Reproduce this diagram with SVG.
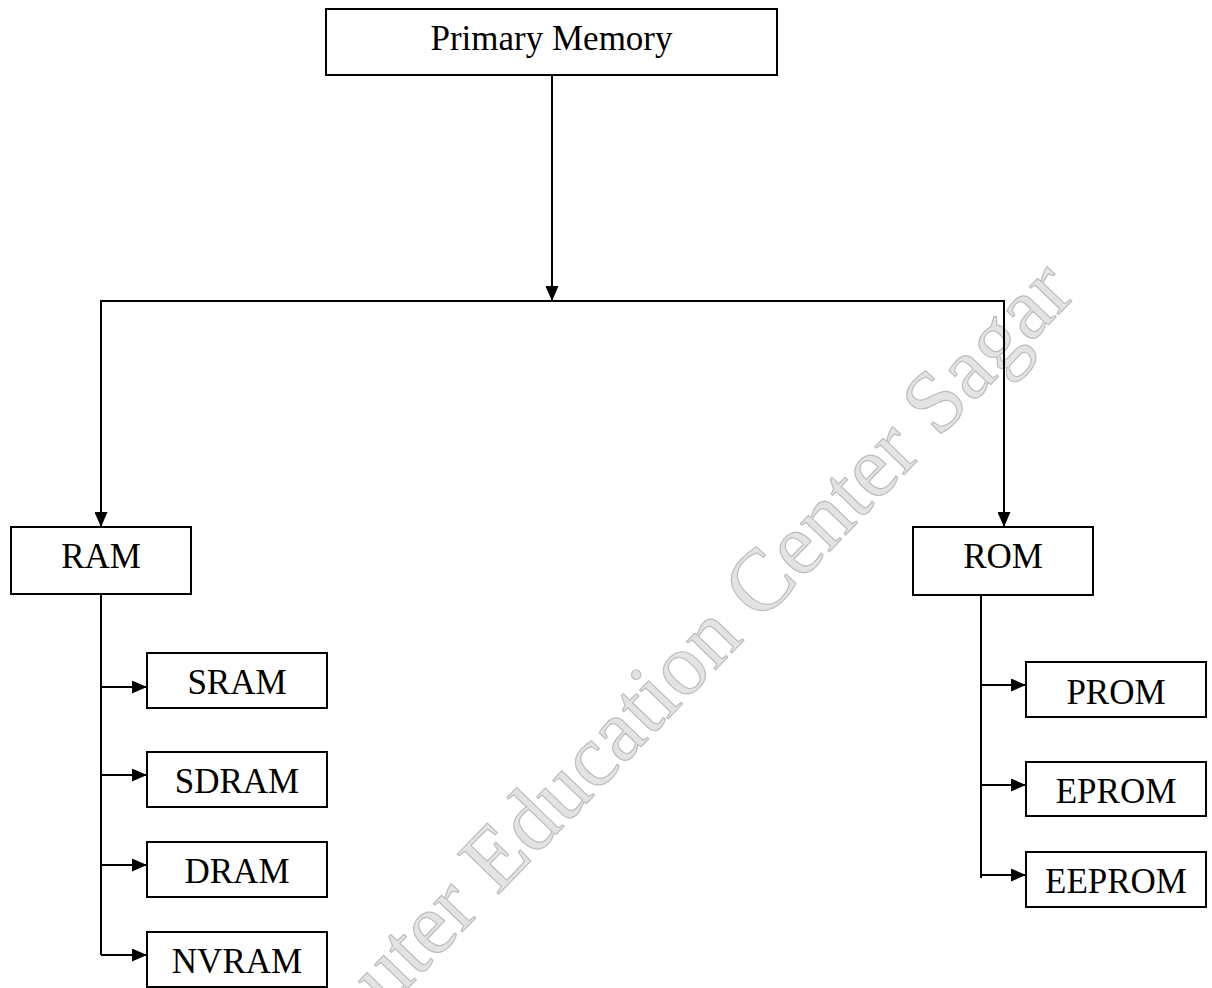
<svg xmlns="http://www.w3.org/2000/svg" width="1212" height="988" viewBox="0 0 1212 988">
  <style>
    .box { fill: #ffffff; stroke: #000000; stroke-width: 2; }
    .label { font-family: "Liberation Serif", "Times New Roman", serif; font-size: 35px; fill: #000000; text-anchor: middle; }
    .wire { fill: none; stroke: #000000; stroke-width: 2; }
    .arrow { marker-end: url(#head); }
    .mark { font-family: "Liberation Serif", "Times New Roman", serif; font-size: 88px; fill: #e3e3e3; stroke: #bdbdbd; stroke-width: 1.2; }
  </style>
  <defs>
    <marker id="head" markerUnits="userSpaceOnUse" markerWidth="16" markerHeight="13" refX="15" refY="6.5" orient="auto">
      <path d="M0,0 L15,6.5 L0,13 Z" fill="#000000"/>
    </marker>
  </defs>

  <rect width="1212" height="988" fill="#ffffff"/>

  <!-- diagonal background watermark -->
  <g id="watermark">
    <text class="mark" transform="translate(497,896) rotate(-46)" x="-374" y="0">Computer Education Center Sagar</text>
  </g>

  <!-- connectors -->
  <g id="connectors">
    <path class="wire arrow" d="M552,75 V301"/>
    <path class="wire arrow" d="M552,301 H101 V527"/>
    <path class="wire arrow" d="M552,301 H1004 V527"/>

    <path class="wire" d="M101,594 V955"/>
    <path class="wire arrow" d="M101,687 H147"/>
    <path class="wire arrow" d="M101,775 H147"/>
    <path class="wire arrow" d="M101,865 H147"/>
    <path class="wire arrow" d="M101,955 H147"/>

    <path class="wire" d="M981,595 V878"/>
    <path class="wire arrow" d="M981,685 H1026"/>
    <path class="wire arrow" d="M981,785 H1026"/>
    <path class="wire arrow" d="M981,875 H1026"/>
  </g>

  <!-- nodes -->
  <g id="primary-memory">
    <rect class="box" x="326" y="9" width="451" height="66"/>
    <text class="label" x="551.5" y="50">Primary Memory</text>
  </g>

  <g id="ram">
    <rect class="box" x="11" y="527" width="180" height="67"/>
    <text class="label" x="101" y="568">RAM</text>
  </g>

  <g id="rom">
    <rect class="box" x="913" y="527" width="180" height="68"/>
    <text class="label" x="1003" y="568">ROM</text>
  </g>

  <g id="sram">
    <rect class="box" x="147" y="653" width="180" height="55"/>
    <text class="label" x="237" y="694">SRAM</text>
  </g>

  <g id="sdram">
    <rect class="box" x="147" y="752" width="180" height="55"/>
    <text class="label" x="237" y="793">SDRAM</text>
  </g>

  <g id="dram">
    <rect class="box" x="147" y="842" width="180" height="55"/>
    <text class="label" x="237" y="883">DRAM</text>
  </g>

  <g id="nvram">
    <rect class="box" x="147" y="932" width="180" height="55"/>
    <text class="label" x="237" y="973">NVRAM</text>
  </g>

  <g id="prom">
    <rect class="box" x="1026" y="662" width="180" height="55"/>
    <text class="label" x="1116" y="704">PROM</text>
  </g>

  <g id="eprom">
    <rect class="box" x="1026" y="762" width="180" height="54"/>
    <text class="label" x="1116" y="803">EPROM</text>
  </g>

  <g id="eeprom">
    <rect class="box" x="1026" y="852" width="180" height="55"/>
    <text class="label" x="1116" y="893">EEPROM</text>
  </g>
</svg>
